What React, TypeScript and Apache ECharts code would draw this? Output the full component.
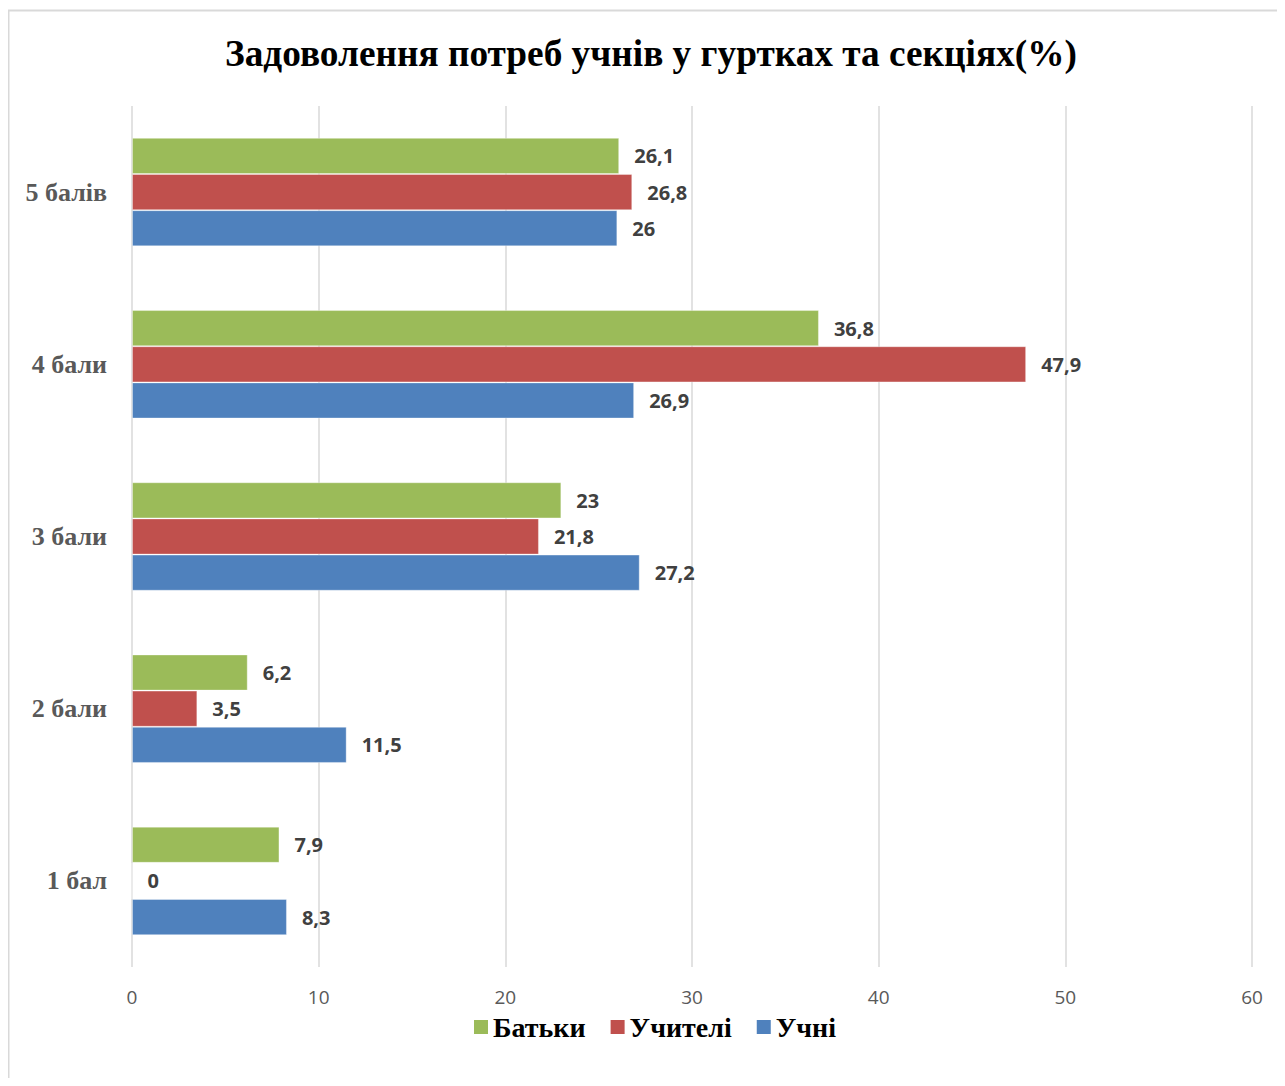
import React, { useEffect, useRef } from "react";
import * as echarts from "echarts";

const categories = ["1 бал", "2 бали", "3 бали", "4 бали", "5 балів"];
const pupils = [8.3, 11.5, 27.2, 26.9, 26];
const teachers = [0, 3.5, 21.8, 47.9, 26.8];
const parents = [7.9, 6.2, 23, 36.8, 26.1];
const xTicks = [0, 10, 20, 30, 40, 50, 60];

const SERIF = "'Liberation Serif', 'Times New Roman', serif";
const SANS = "'Open Sans', 'Liberation Sans', sans-serif";

const fmt = (v: number) => String(v).replace(".", ",");

export default function App() {
  const ref = useRef<HTMLDivElement>(null);
  useEffect(() => {
    if (!ref.current) return;
    const chart = echarts.init(ref.current, undefined, { renderer: "svg" });
    const label = {
      show: true,
      position: "right" as const,
      distance: 15,
      fontFamily: SANS,
      fontWeight: "bold" as const,
      fontSize: 20,
      color: "#404040",
      formatter: (p: any) => fmt(p.value),
    };
    const mk = (name: string, data: number[], color: string) => ({
      name,
      type: "bar",
      data,
      barGap: "0%",
      barCategoryGap: "37%",
      itemStyle: { color, borderColor: "rgba(255,255,255,0.35)", borderWidth: 1 },
      label,
    });
    chart.setOption({
      animation: false,
      backgroundColor: "#ffffff",
      graphic: [
        {
          type: "rect",
          shape: { x: 0.5, y: 2.5, width: 1400, height: 1200 },
          style: { fill: "none", stroke: "#d9d9d9", lineWidth: 2 },
          silent: true,
        },
      ],
      title: {
        text: "Задоволення потреб учнів у гуртках та секціях(%)",
        left: 212,
        top: 22,
        textStyle: { fontFamily: SERIF, fontWeight: "bold", fontSize: 37.3, color: "#000000" },
      },
      grid: { left: 124, right: 33, top: 98, height: 861, containLabel: false },
      xAxis: {
        type: "value",
        min: 0,
        max: 60,
        interval: 10,
        axisLine: { show: false },
        axisTick: { show: false },
        splitLine: { show: true, lineStyle: { color: "#d9d9d9", width: 1.5 } },
        axisLabel: {
          margin: 20,
          fontFamily: SANS,
          fontSize: 19,
          color: "#595959",
          formatter: (v: number) => (xTicks.includes(v) ? String(v) : ""),
        },
      },
      yAxis: {
        type: "category",
        data: categories,
        axisLine: { show: false },
        axisTick: { show: false },
        axisLabel: {
          margin: 25,
          fontFamily: SERIF,
          fontWeight: "bold",
          fontSize: 26,
          color: "#595959",
        },
      },
      legend: {
        bottom: 32,
        left: 461,
        icon: "rect",
        itemWidth: 14,
        itemHeight: 14,
        itemGap: 25,
        itemStyle: { borderWidth: 0 },
        data: ["Батьки", "Учителі", "Учні"],
        textStyle: { fontFamily: SERIF, fontWeight: "bold", fontSize: 28, color: "#000000" },
      },
      series: [
        mk("Батьки", parents, "#9BBB59"),
        mk("Учителі", teachers, "#C0504D"),
        mk("Учні", pupils, "#4F81BD"),
      ],
    });
    return () => chart.dispose();
  }, []);
  return <div ref={ref} style={{ width: 1277, height: 1070 }} />;
}
